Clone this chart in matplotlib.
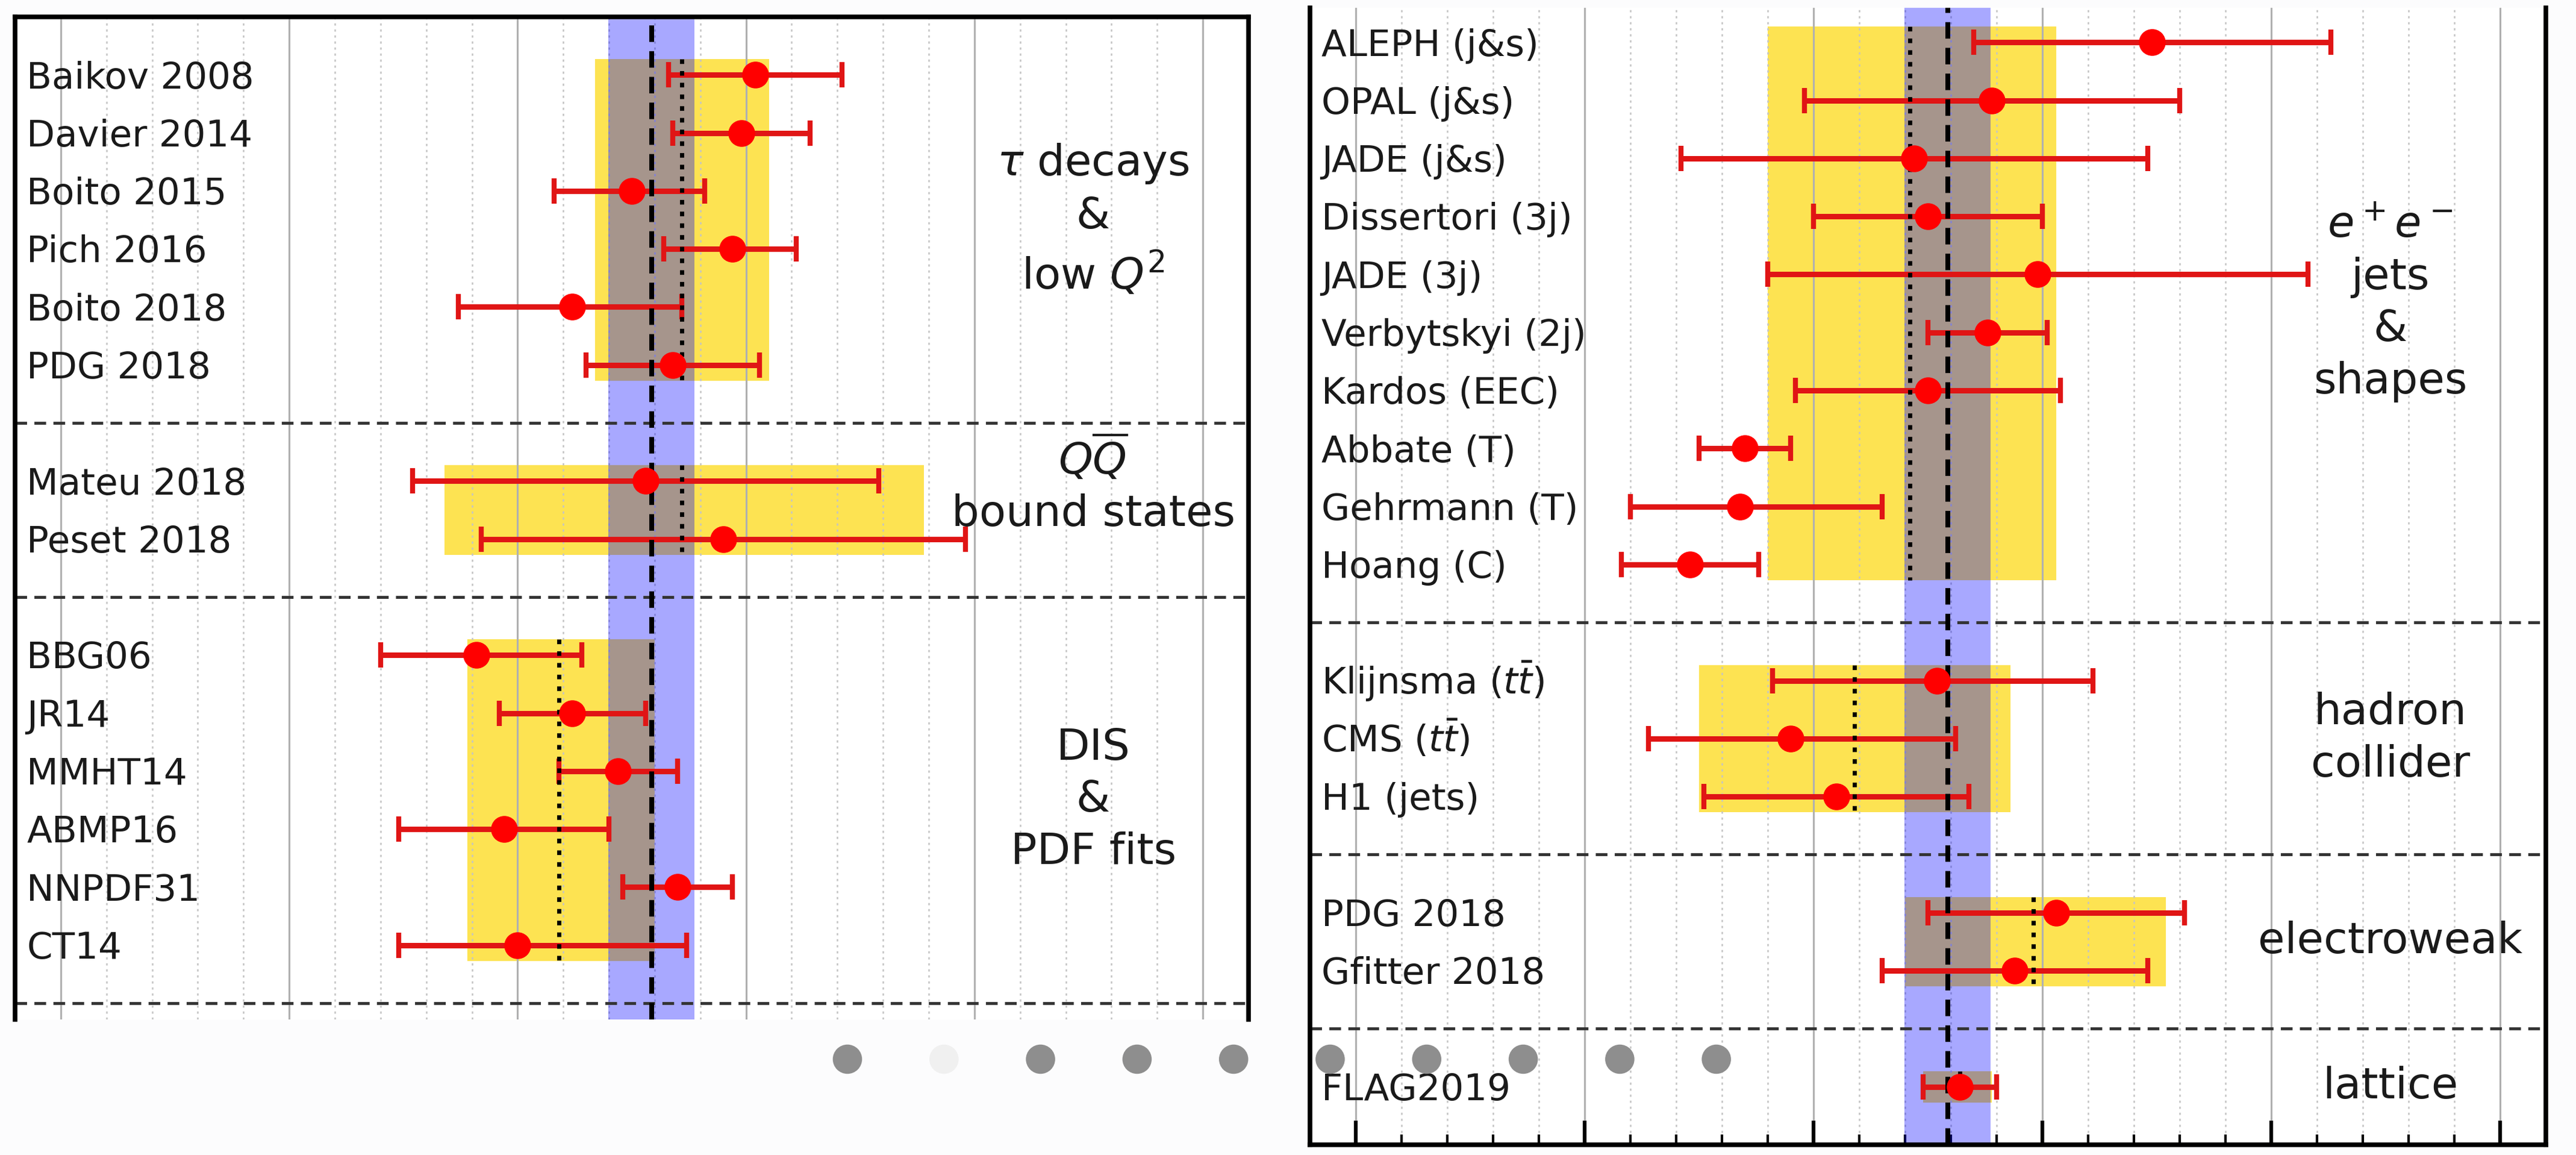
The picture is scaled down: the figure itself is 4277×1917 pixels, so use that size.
import numpy as np
import matplotlib

matplotlib.use("Agg")
import matplotlib.pyplot as plt
from matplotlib.ticker import MultipleLocator

# world average band
wa_value = 0.11793
wa_error = 0.00094

# ---- left panel groups ----
tau_labels = ["Baikov 2008", "Davier 2014", "Boito 2015", "Pich 2016", "Boito 2018", "PDG 2018"]
tau_val = [0.1202, 0.1199, 0.1175, 0.1197, 0.1162, 0.1184]
tau_lo = [0.1183, 0.1184, 0.1158, 0.1182, 0.1137, 0.1165]
tau_hi = [0.1221, 0.1214, 0.1191, 0.1211, 0.1186, 0.1203]
tau_box = (0.1167, 0.1205)
tau_avg = 0.1186

qq_labels = ["Mateu 2018", "Peset 2018"]
qq_val = [0.1178, 0.1195]
qq_lo = [0.1127, 0.1142]
qq_hi = [0.1229, 0.1248]
qq_box = (0.1134, 0.1239)
qq_avg = 0.1186

dis_labels = ["BBG06", "JR14", "MMHT14", "ABMP16", "NNPDF31", "CT14"]
dis_val = [0.1141, 0.1162, 0.1172, 0.1147, 0.1185, 0.1150]
dis_lo = [0.1120, 0.1146, 0.1159, 0.1124, 0.1173, 0.1124]
dis_hi = [0.1164, 0.1178, 0.1185, 0.1170, 0.1197, 0.1187]
dis_box = (0.1139, 0.1180)
dis_avg = 0.1159

# ---- right panel groups ----
ee_labels = ["ALEPH (j&s)", "OPAL (j&s)", "JADE (j&s)", "Dissertori (3j)", "JADE (3j)",
             "Verbytskyi (2j)", "Kardos (EEC)", "Abbate (T)", "Gehrmann (T)", "Hoang (C)"]
ee_val = [0.1224, 0.1189, 0.1172, 0.1175, 0.1199, 0.1188, 0.1175, 0.1135, 0.1134, 0.1123]
ee_lo = [0.1185, 0.1148, 0.1121, 0.1150, 0.1140, 0.1175, 0.1146, 0.1125, 0.1110, 0.1108]
ee_hi = [0.1263, 0.1230, 0.1223, 0.1200, 0.1258, 0.1201, 0.1204, 0.1145, 0.1165, 0.1138]
ee_box = (0.1140, 0.1203)
ee_avg = 0.1171

had_labels = ["Klijnsma ($t\\bar{t}$)", "CMS ($t\\bar{t}$)", "H1 (jets)"]
had_val = [0.1177, 0.1145, 0.1155]
had_lo = [0.1141, 0.1114, 0.1126]
had_hi = [0.1211, 0.1181, 0.1184]
had_box = (0.1125, 0.1193)
had_avg = 0.1159

ew_labels = ["PDG 2018", "Gfitter 2018"]
ew_val = [0.1203, 0.1194]
ew_lo = [0.1175, 0.1165]
ew_hi = [0.1231, 0.1223]
ew_box = (0.1170, 0.1227)
ew_avg = 0.1198

lat_labels = ["FLAG2019"]
lat_val = [0.1182]
lat_lo = [0.1174]
lat_hi = [0.1190]
lat_box = (0.1174, 0.1189)
lat_avg = 0.1182

YELLOW = "#fde352"
W, H = 4277, 1917


def setup_axes(ax, ylim, bottom_ticks):
    ax.set_xlim(0.1040, 0.1310)
    ax.set_ylim(*ylim)
    ax.xaxis.set_major_locator(MultipleLocator(0.005))
    ax.xaxis.set_minor_locator(MultipleLocator(0.001))
    ax.set_axisbelow("line")
    ax.grid(which="major", axis="x", color="#b0b0b0", lw=2.2)
    ax.grid(which="minor", axis="x", color="#c4c4c4", lw=1.8, ls=(0, (1.5, 2.5)))
    ax.tick_params(axis="y", left=False, labelleft=False)
    ax.tick_params(axis="x", which="major", direction="in", length=29, width=4.5,
                   bottom=bottom_ticks, top=False, labelbottom=False)
    ax.tick_params(axis="x", which="minor", direction="in", length=12, width=3,
                   bottom=bottom_ticks, top=False)
    for s in ax.spines.values():
        s.set_linewidth(5.5)
    ax.axvspan(wa_value - wa_error, wa_value + wa_error, color="#0000ff", alpha=0.34, lw=0, zorder=2)
    ax.axvline(wa_value, color="black", lw=5.8, ls=(0, (3.4, 1.9)), zorder=3.5)


def draw_group(ax, rows, labels, vals, lo, hi, box, avg):
    vals = np.array(vals)
    r0, r1 = rows[0] - 0.27, rows[-1] + 0.27
    ax.fill_betweenx([r0, r1], box[0], box[1], color=YELLOW, lw=0, zorder=1)
    ax.vlines(avg, r0, r1, colors="black", linestyles=[(0, (1.1, 1.7))], lw=5, zorder=3.5)
    ax.errorbar(vals, rows, xerr=[vals - np.array(lo), np.array(hi) - vals], fmt="none",
                ecolor="#e01515", elinewidth=6.5, capsize=15, capthick=6, zorder=3)
    ax.plot(vals, rows, "o", color="red", ms=31, zorder=4)
    for r, lab in zip(rows, labels):
        ax.annotate(lab, xy=(0, r), xycoords=("axes fraction", "data"), xytext=(14, -16),
                    textcoords="offset points", fontsize=44, va="baseline", color="#1a1a1a")


def group_label(ax, row, text):
    ax.text(0.1276, row, text, fontsize=52, ha="center", va="center", linespacing=1.32,
            multialignment="center", color="#1a1a1a", zorder=5)


fig = plt.figure(figsize=(W / 100, H / 100), dpi=100)
fig.patch.set_facecolor("#fcfcfd")

# left panel (bottom cut off)
axl = fig.add_axes([25 / W, 1 - 1692 / H, (2073 - 25) / W, (1692 - 28) / H])
setup_axes(axl, (17.28, 0), False)
axl.spines["bottom"].set_visible(False)
draw_group(axl, [1, 2, 3, 4, 5, 6], tau_labels, tau_val, tau_lo, tau_hi, tau_box, tau_avg)
draw_group(axl, [8, 9], qq_labels, qq_val, qq_lo, qq_hi, qq_box, qq_avg)
draw_group(axl, [11, 12, 13, 14, 15, 16], dis_labels, dis_val, dis_lo, dis_hi, dis_box, dis_avg)
for r in [7, 10, 17]:
    axl.axhline(r, color="#333333", lw=3.5, ls=(0, (4, 2.5)), zorder=2.5)
group_label(axl, 3.5, "$\\tau$ decays\n&\nlow $Q^2$")
group_label(axl, 8.05, "$Q\\overline{Q}$\nbound states")
group_label(axl, 13.5, "DIS\n&\nPDF fits")

# right panel (top cut off)
axr = fig.add_axes([2175 / W, 1 - 1900 / H, (4227 - 2175) / W, (1900 - 13) / H])
setup_axes(axr, (20, 0.405), True)
axr.spines["top"].set_visible(False)
draw_group(axr, list(range(1, 11)), ee_labels, ee_val, ee_lo, ee_hi, ee_box, ee_avg)
draw_group(axr, [12, 13, 14], had_labels, had_val, had_lo, had_hi, had_box, had_avg)
draw_group(axr, [16, 17], ew_labels, ew_val, ew_lo, ew_hi, ew_box, ew_avg)
draw_group(axr, [19], lat_labels, lat_val, lat_lo, lat_hi, lat_box, lat_avg)
for r in [11, 15, 18]:
    axr.axhline(r, color="#333333", lw=3.5, ls=(0, (4, 2.5)), zorder=2.5)
group_label(axr, 5.5, "$e^+e^-$\njets\n&\nshapes")
group_label(axr, 13, "hadron\ncollider")
group_label(axr, 16.5, "electroweak")
group_label(axr, 19, "lattice")

# slide carousel dots overlay
ov = fig.add_axes([0, 0, 1, 1])
ov.set_xlim(0, W)
ov.set_ylim(H, 0)
ov.axis("off")
ov.set_zorder(10)
dot_x = 1407 + 160.3 * np.arange(10)
dot_c = ["#8e8e8e"] * 10
dot_c[1] = "#f0f0f0"
ov.scatter(dot_x, np.full(10, 1758), s=1225, c=dot_c, lw=0)

fig.savefig("out.png", dpi=100, facecolor=fig.get_facecolor())
